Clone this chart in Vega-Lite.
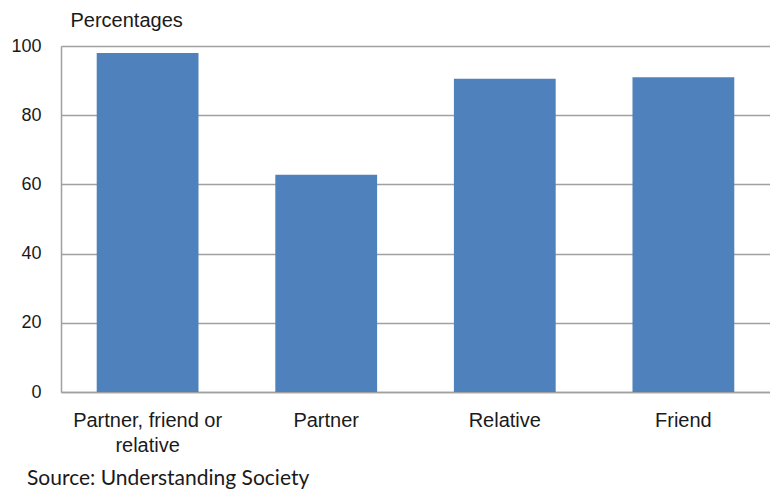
{
  "$schema": "https://vega.github.io/schema/vega-lite/v6.json",
  "width": 709,
  "height": 346,
  "autosize": {"type": "none"},
  "padding": {"left": 61, "top": 46, "right": 0, "bottom": 99},
  "background": "white",
  "config": {
    "view": {"stroke": null},
    "font": "Liberation Sans"
  },
  "title": {
    "text": "Source: Understanding Society",
    "orient": "bottom",
    "anchor": "start",
    "frame": "group",
    "dx": -34,
    "offset": 13,
    "font": "Lato",
    "fontSize": 21,
    "fontWeight": "normal",
    "color": "#1a1a1a"
  },
  "data": {
    "values": [
      {"category": "Partner, friend or relative", "pct": 98.0},
      {"category": "Partner", "pct": 62.8},
      {"category": "Relative", "pct": 90.5},
      {"category": "Friend", "pct": 91.0}
    ]
  },
  "mark": {"type": "bar", "color": "#4f81bd"},
  "encoding": {
    "x": {
      "field": "category",
      "type": "nominal",
      "sort": null,
      "scale": {"paddingInner": 0.43, "paddingOuter": 0.2},
      "axis": {
        "title": null,
        "labelAngle": 0,
        "labelFontSize": 20,
        "labelColor": "#1a1a1a",
        "labelPadding": 18,
        "labelLineHeight": 25,
        "labelExpr": "datum.label == 'Partner, friend or relative' ? ['Partner,  friend or', 'relative'] : datum.label",
        "ticks": false,
        "domain": true,
        "domainColor": "#a0a0a0",
        "domainWidth": 1.5
      }
    },
    "y": {
      "field": "pct",
      "type": "quantitative",
      "scale": {"domain": [0, 100], "nice": false},
      "axis": {
        "values": [0, 20, 40, 60, 80, 100],
        "title": "Percentages",
        "titleAngle": 0,
        "titleAlign": "left",
        "titleBaseline": "middle",
        "titleX": 9,
        "titleY": -26,
        "titleFontSize": 20,
        "titleFontWeight": "normal",
        "titleColor": "#1a1a1a",
        "labelFontSize": 18,
        "labelColor": "#1a1a1a",
        "labelPadding": 20,
        "ticks": false,
        "domain": true,
        "domainColor": "#a0a0a0",
        "domainWidth": 1.5,
        "grid": true,
        "gridColor": "#a0a0a0",
        "gridWidth": 1.5
      }
    }
  }
}
